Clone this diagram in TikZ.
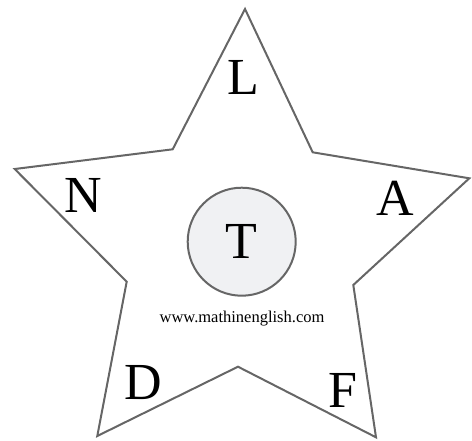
\documentclass[tikz,border=0pt]{standalone}
\usepackage{fontspec}
\setmainfont{Liberation Serif}
\definecolor{edgegray}{HTML}{666666}
\definecolor{discgray}{HTML}{F0F1F3}
\begin{document}
\begin{tikzpicture}[x=1pt, y=-1pt,
    letter/.style={font=\fontsize{52}{52}\selectfont, inner sep=0pt}]
    \useasboundingbox (0,0) rectangle (472,440);
    % Star
    \draw[edgegray, line width=2pt, line join=miter]
        (245,9) -- (312.7,152.3) -- (469.3,178.3) -- (353.3,285)
        -- (376,437.3) -- (238,366.7) -- (97.3,436) -- (126.7,281.7)
        -- (14.7,169) -- (172.7,149.3) -- cycle;
    % Centre
    \node[letter, circle, draw=edgegray, fill=discgray, line width=2pt,
          minimum size=108pt] (t) at (241.7,241.7) {T};
    % Letters
    \node[letter] (l) at (243,77) {L};
    \node[letter] (n) at (83,195) {N};
    \node[letter] (a) at (395,198) {A};
    \node[letter] (d) at (143,383) {D};
    \node[letter] (f) at (343,390) {F};
    % Site
    \node[font=\fontsize{16.5}{16.5}\selectfont, inner sep=0pt] (site) at (242,319) {www.mathinenglish.com};
\end{tikzpicture}
\end{document}
